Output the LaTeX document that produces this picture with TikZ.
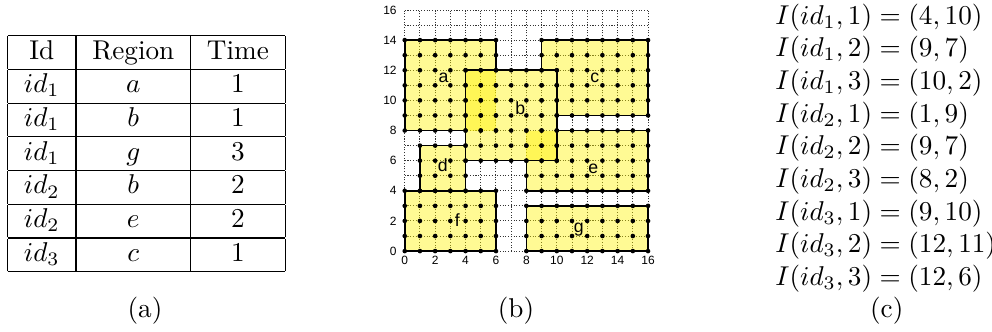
\documentclass[tikz,border=0pt]{standalone}
\usepackage{fontspec}
\newfontfamily\plotfont{Liberation Sans}
\usetikzlibrary{positioning}

\begin{document}
\begin{tikzpicture}[
  subcap/.style={anchor=base, inner sep=0pt},
  area/.style={fill=yellow, fill opacity=0.42},
  edge/.style={draw=black, line width=0.6pt},
  gridline/.style={line width=0.35pt, dash pattern=on 0.4pt off 0.6pt, black!80},
  tick/.style={font=\plotfont\fontsize{4.4}{5}\selectfont, inner sep=0pt},
  rlab/.style={font=\plotfont\fontsize{6.5}{7}\selectfont, inner sep=0pt}]
\useasboundingbox (0,0) rectangle (364.7pt,121.7pt);

% (a) the table
\node[anchor=north west, inner sep=0pt] (tab) at (2.6pt,109pt) {%
  \begin{tabular}{|c|c|c|}
  \hline
  Id & Region & Time\\ \hline
  $id_1$ & $a$ & 1\\ \hline
  $id_1$ & $b$ & 1\\ \hline
  $id_1$ & $g$ & 3\\ \hline
  $id_2$ & $b$ & 2\\ \hline
  $id_2$ & $e$ & 2\\ \hline
  $id_3$ & $c$ & 1\\ \hline
  \end{tabular}};
\node[subcap] (capa) at (53.3pt,5.1pt) {(a)};

% (b) regions on the grid
\begin{scope}[shift={(148.8pt,29.4pt)}, x=5.59pt, y=5.54pt]
  \draw[gridline, step=1] (0,0) grid (16,16);
  % fills
  \foreach \xa/\ya/\xb/\yb in {0/8/6/14, 1/4/4/7, 8/4/16/8, 0/0/6/4, 8/0/16/3, 4/6/10/12}
    \fill[area] (\xa,\ya) rectangle (\xb,\yb);
  \fill[area] (9,12) -- (9,14) -- (16,14) -- (16,9) -- (10,9) -- (10,12) -- cycle;
  % outlines
  \draw[edge] (4,8) -- (0,8) -- (0,14) -- (6,14) -- (6,12);
  \draw[edge] (4,6) rectangle (10,12);
  \draw[edge] (9,12) -- (9,14) -- (16,14) -- (16,9) -- (10,9);
  \draw[edge] (1,4) rectangle (4,7);
  \draw[edge] (10,8) -- (16,8) -- (16,4) -- (8,4) -- (8,6);
  \draw[edge] (0,0) rectangle (6,4);
  \draw[edge] (8,0) rectangle (16,3);
  % sample points
  \foreach \xa/\ya/\xb/\yb in {0/8/6/14, 4/6/10/12, 9/9/16/14, 1/4/4/7, 8/4/16/8, 0/0/6/4, 8/0/16/3}
    \foreach \x in {\xa,...,\xb}
      \foreach \y in {\ya,...,\yb}
        \fill (\x,\y) circle (0.85pt);
  \foreach \nm/\x/\y in {a/2.55/11.5, b/7.6/9.47, c/12.5/11.5, d/2.5/5.7, e/12.4/5.44, f/3.46/2.06, g/11.45/1.4}
    \node[rlab] (lab\nm) at (\x,\y) {\nm};
  \foreach \t in {0,2,...,16} {
    \node[tick] (xt\t) at (\t,-0.63) {\t};
    \node[tick, anchor=east] (yt\t) at (-0.5,\t) {\t};
  }
\end{scope}
\node[subcap] (capb) at (189.7pt,5.1pt) {(b)};

% (c) the positions
\node[anchor=base west, inner sep=0pt] (pos) at (284.9pt,112.8pt) {%
  \begin{tabular}[t]{@{}l@{}}
  $I(id_1,1)=(4,10)$\\
  $I(id_1,2)=(9,7)$\\
  $I(id_1,3)=(10,2)$\\
  $I(id_2,1)=(1,9)$\\
  $I(id_2,2)=(9,7)$\\
  $I(id_2,3)=(8,2)$\\
  $I(id_3,1)=(9,10)$\\
  $I(id_3,2)=(12,11)$\\
  $I(id_3,3)=(12,6)$
  \end{tabular}};
\node[subcap] (capc) at (326pt,5.1pt) {(c)};
\end{tikzpicture}
\end{document}
